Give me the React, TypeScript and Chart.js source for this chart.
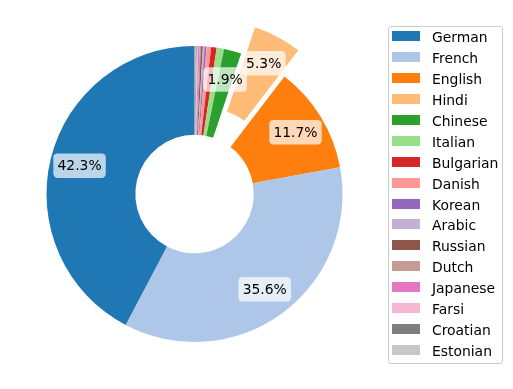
import React, { useEffect, useRef } from "react";
import { Chart, registerables } from "chart.js";

Chart.register(...registerables);

const categories = [
  "German", "French", "English", "Hindi", "Chinese", "Italian", "Bulgarian", "Danish",
  "Korean", "Arabic", "Russian", "Dutch", "Japanese", "Farsi", "Croatian", "Estonian",
];
const shares = [42.3, 35.6, 11.7, 5.3, 1.9, 0.8, 0.6, 0.5, 0.2, 0.2, 0.2, 0.15, 0.15, 0.15, 0.1, 0.15];
const colors = [
  "#1f77b4", "#aec7e8", "#ff7f0e", "#ffbb78", "#2ca02c", "#98df8a", "#d62728", "#ff9896",
  "#9467bd", "#c5b0d5", "#8c564b", "#c49c94", "#e377c2", "#f7b6d2", "#7f7f7f", "#c7c7c7",
];
const explode = [0, 0, 0, 0.2, 0, 0, 0, 0, 0, 0, 0, 0, 0, 0, 0, 0];
const labelThreshold = 1.5;

const FONT = "'DejaVu Sans', sans-serif";
const FS = 13.9;

// Chart.js draws clockwise; matplotlib draws counter-clockwise, so reverse.
const revValues = [...shares].reverse();
const revColors = [...colors].reverse();
const revLabels = [...categories].reverse();
const revExplode = [...explode].reverse();

const explodePlugin = {
  id: "explodeSlices",
  afterDatasetsUpdate(chart: any) {
    const meta = chart.getDatasetMeta(0);
    const ca = chart.chartArea;
    const cx = (ca.left + ca.right) / 2;
    const cy = (ca.top + ca.bottom) / 2;
    meta.data.forEach((el: any, i: number) => {
      const f = revExplode[i] || 0;
      const mid = (el.startAngle + el.endAngle) / 2;
      el.x = cx + Math.cos(mid) * f * el.outerRadius;
      el.y = cy + Math.sin(mid) * f * el.outerRadius;
    });
  },
};

const pctLabelPlugin = {
  id: "pctLabels",
  afterDatasetsDraw(chart: any) {
    const ctx = chart.ctx;
    const meta = chart.getDatasetMeta(0);
    const total = revValues.reduce((a, b) => a + b, 0);
    ctx.save();
    ctx.font = `${FS}px ${FONT}`;
    meta.data.forEach((el: any, i: number) => {
      const pct = (revValues[i] / total) * 100;
      if (pct < labelThreshold) return;
      const text = pct.toFixed(1) + "%";
      const mid = (el.startAngle + el.endAngle) / 2;
      const r = 0.8 * el.outerRadius;
      const px = el.x + Math.cos(mid) * r;
      const py = el.y + Math.sin(mid) * r;
      const w = ctx.measureText(text).width;
      const pad = 0.3 * FS;
      const th = 1.164 * FS;
      const bw = w + 2 * pad;
      const bh = th + 2 * pad;
      ctx.beginPath();
      ctx.roundRect(px - bw / 2, py - bh / 2, bw, bh, pad);
      ctx.fillStyle = "rgba(255,255,255,0.7)";
      ctx.fill();
      ctx.fillStyle = "#000";
      ctx.textAlign = "center";
      ctx.textBaseline = "alphabetic";
      ctx.fillText(text, px, py + 0.346 * FS);
    });
    ctx.restore();
  },
};

export default function App() {
  const ref = useRef<HTMLCanvasElement | null>(null);

  useEffect(() => {
    if (!ref.current) return;
    const chart = new Chart(ref.current, {
      type: "doughnut",
      data: {
        labels: revLabels,
        datasets: [
          {
            data: revValues,
            backgroundColor: revColors,
            borderWidth: 0,
            radius: 148,
            clip: false,
          } as any,
        ],
      },
      options: {
        responsive: false,
        maintainAspectRatio: false,
        animation: false,
        devicePixelRatio: 1,
        events: [],
        cutout: "40%",
        radius: 148,
        rotation: 0,
        layout: { padding: { left: 0, right: 124, top: 0, bottom: 1 } },
        plugins: {
          legend: { display: false },
          tooltip: { enabled: false },
        },
      } as any,
      plugins: [explodePlugin, pctLabelPlugin],
    });
    return () => chart.destroy();
  }, []);

  const rowPitch = 20.9;
  const firstRow = 37.3;

  return (
    <div
      style={{
        position: "fixed",
        left: 0,
        top: 0,
        width: 513,
        height: 389,
        background: "#fff",
        overflow: "hidden",
      }}
    >
      <canvas ref={ref} width={513} height={389} style={{ position: "absolute", left: 0, top: 0, width: 513, height: 389 }} />
      <div
        style={{
          position: "absolute",
          left: 388,
          top: 26,
          width: 115,
          height: 338,
          border: "1px solid #cccccc",
          borderRadius: 3,
          background: "rgba(255,255,255,0.8)",
          boxSizing: "border-box",
        }}
      />
      {categories.map((c, i) => {
        const yc = firstRow + rowPitch * i;
        return (
          <div
            key={c}
            style={{
              position: "absolute",
              left: 392,
              top: yc - 10,
              height: 20,
              display: "flex",
              alignItems: "center",
              fontFamily: FONT,
              fontSize: FS,
              color: "#000",
              whiteSpace: "nowrap",
            }}
          >
            <div style={{ width: 28, height: 10, background: colors[i], marginTop: -2 }} />
            <span style={{ marginLeft: 12, lineHeight: "20px" }}>{c}</span>
          </div>
        );
      })}
    </div>
  );
}
